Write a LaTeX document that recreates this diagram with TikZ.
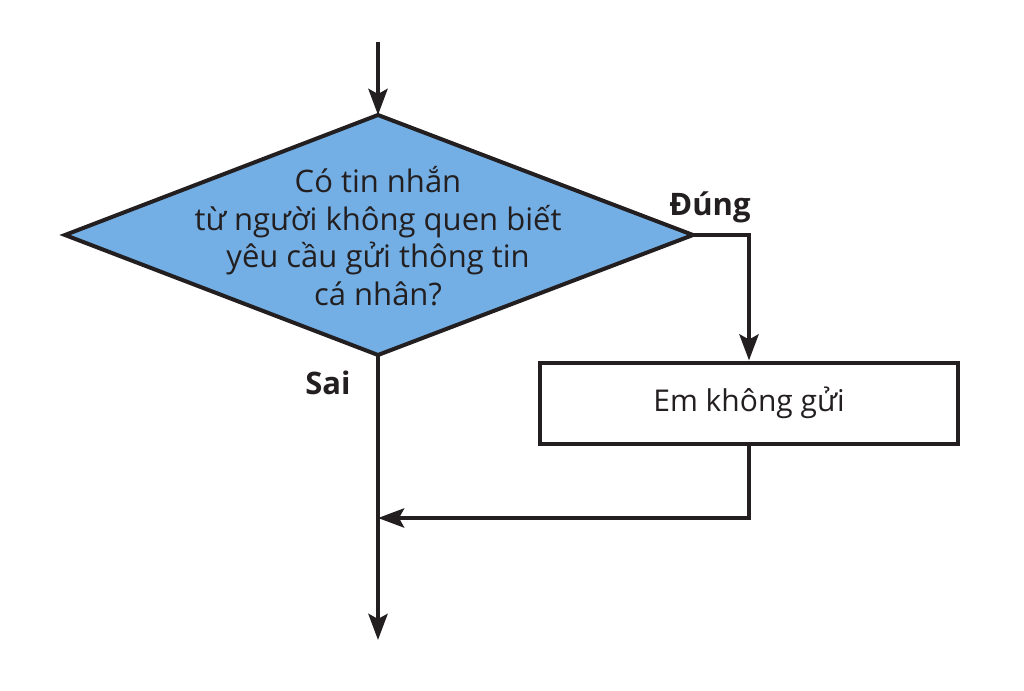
\documentclass[tikz,border=0pt]{standalone}
\usepackage{fontspec}
\setmainfont{Open Sans}
\usetikzlibrary{arrows.meta}
\definecolor{dfill}{RGB}{115,175,228}
\definecolor{ink}{RGB}{35,31,32}
\tikzset{
  flow/.style={draw=ink, line width=4.5pt, -{Stealth[length=26pt,width=19pt,inset=5pt]}},
  plain/.style={draw=ink, line width=4.5pt},
  txt/.style={font=\fontsize{31}{37.5}\selectfont, text=ink, align=center, inner sep=0pt},
  lbl/.style={font=\fontsize{31}{34}\selectfont\bfseries, text=ink, inner sep=0pt},
  boxst/.style={draw=ink, line width=4pt, minimum width=418pt, minimum height=81pt, fill=white, font=\fontsize{30}{34}\selectfont, text=ink}
}
\begin{document}
\begin{tikzpicture}[x=1pt,y=-1pt]
\useasboundingbox (0,0) rectangle (1024,690);
% diamond corners
\coordinate (dtop) at (378,115);
\coordinate (dleft) at (65,235);
\coordinate (dright) at (693,235);
\coordinate (dbot) at (378,355);
\coordinate (start) at (378,42);
\filldraw[fill=dfill, draw=ink, line width=4pt, line join=miter] (dtop) -- (dright) -- (dbot) -- (dleft) -- cycle;
\node[txt] (q) at (378,236) {Có tin nhắn\\từ người không quen biết\\yêu cầu gửi thông tin\\cá nhân?};
\node[boxst] (b) at (749,403) {Em không gửi};
\coordinate (join) at (378,518);
\coordinate (bend) at (749,518);
\coordinate (endp) at (378,640);
\coordinate (rcorner) at (749,235);
\draw[flow] (start) -- (dtop);
\draw[flow] (dright) -- (rcorner) -- (b.north);
\draw[plain] (dbot) -- (join);
\draw[flow] (join) -- (endp);
\draw[flow] (b.south) -- (bend) -- (join);
\node[lbl] (yes) at (710,207) {Đúng};
\node[lbl] (no) at (328,383) {Sai};
\end{tikzpicture}
\end{document}
